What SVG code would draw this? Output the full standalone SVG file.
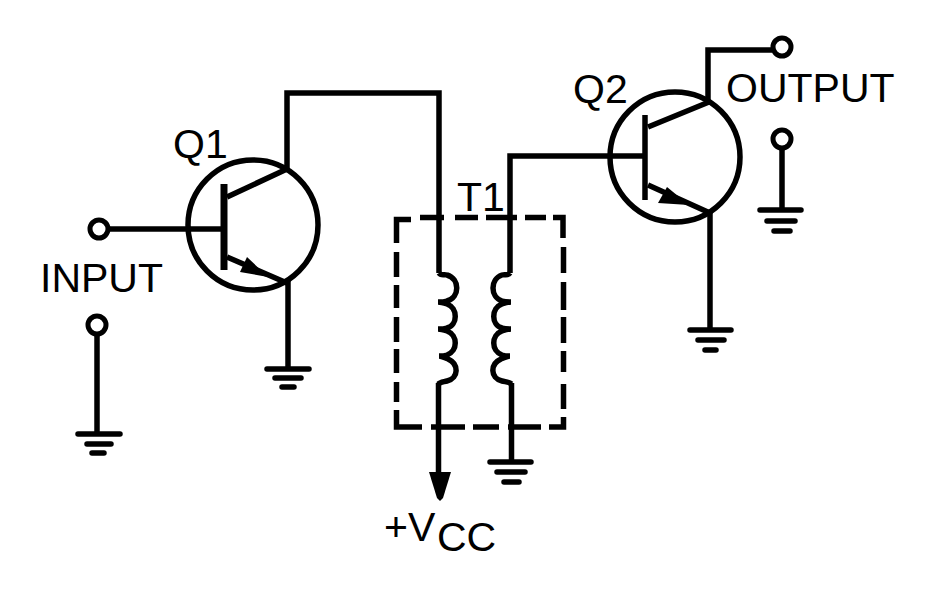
<svg xmlns="http://www.w3.org/2000/svg" width="934" height="589" viewBox="0 0 934 589">
<style>
.w{fill:none;stroke:#000;stroke-width:5.500}
.t{fill:none;stroke:#000;stroke-width:5}
.b{fill:none;stroke:#000;stroke-width:7}
.c{fill:none;stroke:#000;stroke-width:5.500}
.g{fill:none;stroke:#000;stroke-width:5.500;stroke-linecap:round}
text{font-family:"Liberation Sans",Arial,sans-serif;font-size:41px;fill:#000}
</style>
<rect width="934" height="589" fill="#fff"/>
<g id="connectors">
<path class="w" d="M107 229H224"/>
<path class="w" d="M287 170V93H439V273"/>
<path class="w" d="M288 280V368"/>
<path class="w" d="M510 273V156H645"/>
<path class="w" d="M438.500 383V472"/>
<path class="w" d="M511.500 383V461"/>
<path class="w" d="M708 102V50H772"/>
<path class="w" d="M710 212V329"/>
<path class="w" d="M97 336V433"/>
<path class="w" d="M782 150V209"/>
</g>
<g id="Q1">
<circle class="c" cx="253" cy="225" r="65"/>
<path class="b" d="M224 184V270"/>
<path class="w" d="M227 197L287 169M227 257L287 283"/>
<polygon points="247,257 240,272 268,277"/>
</g>
<g id="Q2">
<circle class="c" cx="675" cy="157" r="65"/>
<path class="w" d="M645 115V200"/>
<path class="w" d="M648 127L709 102M648 185L710 213"/>
<polygon points="667,187 658,203 689,205"/>
</g>
<g id="T1">
<path class="w" d="M396.500 243V219.500H411M420 217.500H444M455 217.500H478M486 217.500H517M525 217.500H546M553 217.500H563V238"/>
<path class="w" d="M396.500 252V277M396.500 285V308M396.500 317V342M396.500 349V373M396.500 382V402M396.500 410V427H422M431 427H465M473 427H499M508 427H541M549 427H563.500V417M563.500 409V384M563.500 372V351M563.500 343V317M563.500 310V282M563.500 273V247"/>
<path class="c" d="M439 273C441 276 444 274 447 275C460 279 460 297 447 301C444 302 441 302 438 302C441 302 444 303 447 304C458 308 458 325 447 328C444 329 441 329 438 329C441 329 444 330 447 331C458 335 458 351 447 355C444 356 441 356 439 356C442 356 445 358 448 359C459 364 459 378 447 381C443 382 440 382 438.500 384"/>
<path class="c" d="M510 273C508 276 505 274 502 275C490 279 490 297 502 301C505 302 508 302 511 302C508 302 505 303 502 304C491 308 491 325 502 328C505 329 508 329 511 329C508 329 505 330 502 331C491 335 491 351 502 355C505 356 508 356 510 356C507 356 504 358 501 359C490 364 490 378 502 381C506 382 509 382 511.500 384"/>
</g>
<g id="gnd1"><path class="g" d="M267 369H309M275 378H301M282 387H294"/></g>
<g id="gnd2"><path class="g" d="M78 434H120M87 444H111M92 453H104"/></g>
<g id="gnd3"><path class="g" d="M490 462H531M497 472H525M504 482H519"/></g>
<g id="gnd4"><path class="g" d="M690 330H731M698 340H724M705 350H716"/></g>
<g id="gnd5"><path class="g" d="M760 210H801M767 221H795M774 231H790"/></g>
<g id="vcc">
<polygon points="429,472 451,472 443,498 440,501 437,498"/>
<text x="384" y="541">+V</text>
<text x="437" y="551">CC</text>
</g>
<g id="term-in1"><circle class="t" cx="99" cy="229" r="9"/></g>
<g id="term-in2"><circle class="t" cx="97" cy="325" r="9"/></g>
<g id="term-out1"><circle class="t" cx="782" cy="47" r="9"/></g>
<g id="term-out2"><circle class="t" cx="782" cy="139" r="9"/></g>
<g id="labels">
<text x="40" y="292">INPUT</text>
<text x="173" y="158">Q1</text>
<text x="573" y="103">Q2</text>
<text x="726" y="102">OUTPUT</text>
<text x="457" y="211">T1</text>
</g>
</svg>
